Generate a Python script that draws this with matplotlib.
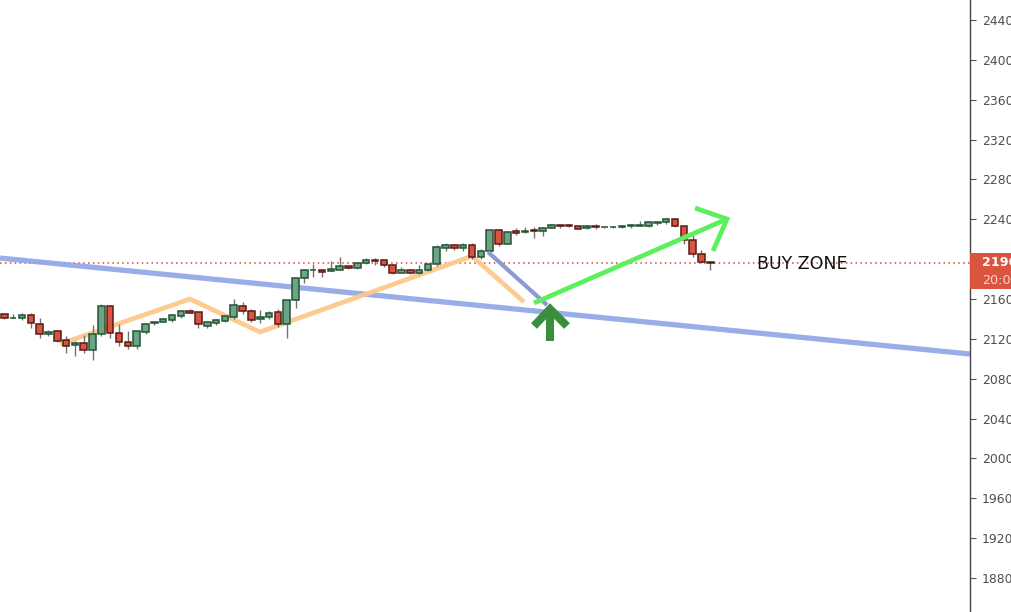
import matplotlib
matplotlib.use("Agg")
import matplotlib.pyplot as plt
from matplotlib.patches import Rectangle
import numpy as np

# --- candles ---
opens = [2145, 2141, 2141, 2144, 2135, 2125, 2128, 2119, 2114, 2116,
         2109, 2125, 2153, 2126, 2117, 2113, 2127, 2136, 2137, 2139,
         2143, 2148, 2147, 2133, 2136, 2138, 2142, 2153, 2148, 2140,
         2142, 2147, 2135, 2159, 2181, 2189, 2189, 2188, 2189, 2193,
         2191, 2196, 2199, 2199, 2194, 2186, 2189, 2186, 2189, 2195,
         2211, 2214, 2211, 2214, 2202, 2208, 2229, 2215, 2228, 2227,
         2229, 2228, 2231, 2234, 2234, 2233, 2231, 2233, 2232, 2232,
         2232, 2233, 2233, 2233, 2236, 2237, 2240, 2233, 2219, 2205,
         2197]
highs = [2145, 2145, 2146, 2146, 2141, 2129, 2129, 2123, 2118, 2124,
         2134, 2155, 2153, 2135, 2128, 2128, 2135, 2137, 2141, 2145,
         2149, 2150, 2147, 2138, 2140, 2144, 2160, 2157, 2150, 2149,
         2148, 2150, 2159, 2181, 2190, 2195, 2189, 2198, 2202, 2193,
         2197, 2201, 2201, 2199, 2195, 2192, 2189, 2194, 2195, 2214,
         2216, 2215, 2216, 2216, 2210, 2229, 2230, 2228, 2231, 2232,
         2232, 2232, 2235, 2234, 2235, 2233, 2234, 2235, 2233, 2233,
         2234, 2235, 2238, 2238, 2237, 2241, 2241, 2233, 2226, 2209,
         2198]
lows = [2140, 2141, 2139, 2131, 2121, 2123, 2117, 2106, 2103, 2106,
        2099, 2123, 2121, 2113, 2110, 2110, 2125, 2134, 2137, 2137,
        2141, 2146, 2131, 2131, 2134, 2137, 2140, 2145, 2137, 2136,
        2140, 2132, 2121, 2151, 2176, 2182, 2182, 2188, 2189, 2190,
        2190, 2195, 2194, 2192, 2185, 2186, 2185, 2185, 2188, 2193,
        2208, 2209, 2208, 2200, 2200, 2203, 2213, 2215, 2224, 2226,
        2221, 2223, 2231, 2231, 2232, 2230, 2230, 2230, 2231, 2231,
        2231, 2231, 2233, 2232, 2234, 2235, 2232, 2215, 2202, 2196,
        2189]
closes = [2141, 2141.3, 2144, 2136, 2125, 2127, 2118, 2113, 2116, 2109,
          2125, 2153, 2126, 2117, 2113, 2128, 2135, 2137, 2140, 2144,
          2148, 2146, 2135, 2137, 2139, 2143, 2154, 2148, 2139, 2142,
          2146, 2135, 2159, 2181, 2189, 2189.3, 2187, 2190, 2193, 2191,
          2196, 2199, 2198, 2194, 2186, 2189, 2186, 2189, 2195, 2212,
          2214, 2211, 2214, 2202, 2208, 2229, 2215, 2227, 2226, 2228,
          2228, 2231, 2234, 2233, 2233, 2230, 2233, 2232, 2232.3, 2232.3,
          2233, 2234, 2234, 2237, 2237, 2240, 2233, 2219, 2205, 2197,
          2196]

last_price = 2196
# 2200 sits under the last-price label, so it isn't shown
price_ticks = [1880, 1920, 1960, 2000, 2040, 2080, 2120, 2160,
               2240, 2280, 2320, 2360, 2400, 2440]

# --- drawings (bar index, price) ---
trend_x = [-0.49, 109.43]
trend_y = [2201.1, 2104.8]
zigzag_x = [6.31, 21.04, 28.97, 53.0, 58.89]
zigzag_y = [2114.8, 2160.0, 2126.9, 2203.1, 2157.0]
slate_x = [54.81, 61.5]
slate_y = [2207.2, 2154.0]
green_x = [60.02, 81.89]
green_y = [2156.0, 2240.3]
green_head_x = [78.27, 81.89, 80.31]
green_head_y = [2251.3, 2240.3, 2208.2]
up_stem_x = [61.84, 61.84]
up_stem_y = [2117.8, 2149.0]
up_head_x = [60.02, 61.84, 63.76]
up_head_y = [2132.9, 2150.0, 2132.9]

W, H = 1012, 612
fig = plt.figure(figsize=(W / 100, H / 100), dpi=100)
ax = fig.add_axes([0, 0, 970 / W, 1])

up_fill, up_edge = "#6ba583", "#225437"
dn_fill, dn_edge = "#d75442", "#5b1a13"
wick = "#737373"
bw = 0.74

x = np.arange(len(opens))
for i in x:
    o, h, l, c = opens[i], highs[i], lows[i], closes[i]
    ax.plot([i, i], [l, h], color=wick, lw=1.0, zorder=3, solid_capstyle="butt")
    up = c >= o
    bottom = min(o, c)
    height = max(abs(c - o), 0.4)
    ax.add_patch(Rectangle((i - bw / 2, bottom), bw, height,
                           facecolor=up_fill if up else dn_fill,
                           edgecolor=up_edge if up else dn_edge,
                           lw=1.1, zorder=4))

# price line
ax.axhline(last_price, color="#d4493a", lw=1.1, ls=(0, (1, 2.2)), zorder=2)

# drawings
ax.plot(trend_x, trend_y, color="#8ea5e6", lw=3.8, alpha=0.9, zorder=2,
        solid_capstyle="butt")
ax.plot(zigzag_x, zigzag_y, color="#fdc98a", lw=3.4, alpha=0.95, zorder=2,
        solid_capstyle="butt", solid_joinstyle="miter")
ax.plot(slate_x, slate_y, color="#8a9ad2", lw=3.0, zorder=5,
        solid_capstyle="butt")
ax.plot(up_stem_x, up_stem_y, color="#3a8f3e", lw=5.8, zorder=6,
        solid_capstyle="butt")
ax.plot(up_head_x, up_head_y, color="#3a8f3e", lw=5.8, zorder=6,
        solid_capstyle="butt", solid_joinstyle="miter")
ax.plot(green_x, green_y, color="#5cf05c", lw=3.4, zorder=6,
        solid_capstyle="butt")
ax.plot(green_head_x, green_head_y, color="#5cf05c", lw=3.4, zorder=6,
        solid_capstyle="butt", solid_joinstyle="miter")

ax.text(85.29, 2195.1, "BUY ZONE", fontsize=12.5, color="#111111",
        va="center", ha="left", zorder=7)

ax.set_xlim(-0.49, 109.43)
ax.set_ylim(1845.9, 2460.1)

# price scale on the right
ax.yaxis.tick_right()
ax.set_yticks(price_ticks)
ax.set_yticklabels([str(t) for t in price_ticks])
ax.tick_params(axis="y", length=4, width=0.8, color="#555555", pad=4.5,
               labelsize=8.9, labelcolor="#4d4d4d")
ax.set_xticks([])
for s in ["top", "left", "bottom"]:
    ax.spines[s].set_visible(False)
ax.spines["right"].set_color("#444444")
ax.spines["right"].set_linewidth(1.0)

# last price label (cut by the right edge, as in the screenshot)
tr = ax.get_yaxis_transform()
ax.add_patch(Rectangle((1.0, 2170), 0.06, 36, transform=tr,
                       facecolor="#d95540", edgecolor="none",
                       clip_on=False, zorder=10))
ax.text(1.0124, 2197, str(last_price), transform=tr, fontsize=9.2,
        fontweight="bold", color="white", va="center", ha="left",
        clip_on=False, zorder=11)
ax.text(1.0124, 2179, "20:02", transform=tr, fontsize=9.2,
        color="#f6d6d0", va="center", ha="left", clip_on=False, zorder=11)

fig.savefig("out.png", dpi=100)
